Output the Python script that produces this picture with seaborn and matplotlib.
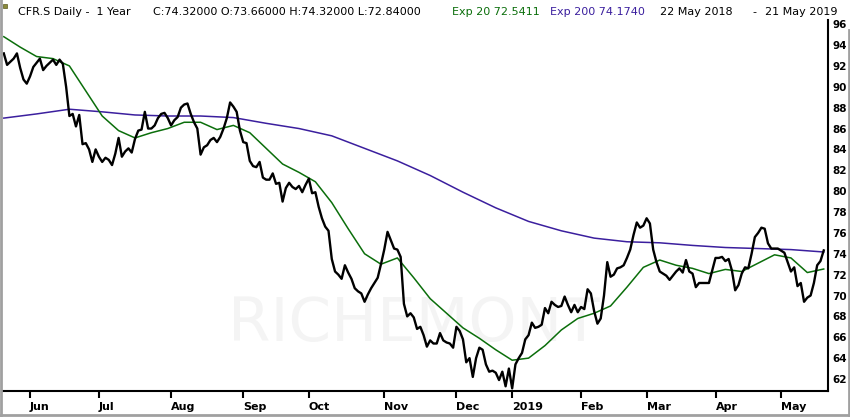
import numpy as np
import pandas as pd
import seaborn as sns
import matplotlib.pyplot as plt
from matplotlib.patches import Rectangle
from matplotlib.lines import Line2D

# Daily close, one value per trading day (22 May 2018 - 21 May 2019)
close = [
    93.2, 92.1, 92.4, 92.7, 93.2, 91.8, 90.7, 90.3, 91.0, 91.9,
    92.3, 92.7, 91.6, 92.0, 92.3, 92.6, 92.1, 92.6, 92.2, 90.0,
    87.2, 87.4, 86.2, 87.3, 84.5, 84.6, 84.0, 82.8, 84.0, 83.3,
    82.8, 83.2, 83.0, 82.5, 83.6, 85.1, 83.3, 83.8, 84.1, 83.7,
    85.0, 85.8, 85.9, 87.6, 86.0, 86.0, 86.3, 87.0, 87.4, 87.5,
    87.0, 86.3, 86.8, 87.1, 88.0, 88.3, 88.4, 87.4, 86.6, 86.0,
    83.5, 84.2, 84.4, 84.9, 85.1, 84.7, 85.2, 86.0, 87.0, 88.5,
    88.1, 87.6, 85.8, 84.7, 84.6, 82.9, 82.4, 82.3, 82.8, 81.3,
    81.1, 81.1, 81.7, 80.7, 80.8, 79.0, 80.3, 80.8, 80.4, 80.2,
    80.5, 79.9, 80.6, 81.2, 79.8, 79.9, 78.5, 77.4, 76.6, 76.2,
    73.5, 72.3, 72.0, 71.6, 72.9, 72.2, 71.6, 70.7, 70.4, 70.2,
    69.4, 70.1, 70.7, 71.2, 71.7, 73.0, 74.4, 76.1, 75.3, 74.5,
    74.4, 73.7, 69.2, 68.0, 68.3, 67.9, 66.8, 67.0, 66.2, 65.1,
    65.7, 65.4, 65.4, 66.4, 65.7, 65.5, 65.4, 65.0, 67.0, 66.6,
    65.8, 63.6, 64.0, 62.2, 64.0, 65.0, 64.8, 63.4, 62.7, 62.8,
    62.6, 61.9, 62.7, 61.3, 63.0, 61.1, 63.4, 64.0, 64.5, 65.8,
    66.2, 67.4, 66.9, 67.0, 67.2, 68.8, 68.3, 69.4, 69.1, 68.9,
    69.0, 69.9, 69.1, 68.4, 69.1, 68.4, 68.9, 68.7, 70.6, 70.2,
    68.5, 67.3, 67.8, 70.0, 73.2, 71.8, 72.0, 72.6, 72.7, 72.9,
    73.6, 74.4, 75.8, 77.0, 76.5, 76.7, 77.4, 76.9, 74.4, 73.2,
    72.3, 72.1, 71.9, 71.5, 71.9, 72.3, 72.6, 72.2, 73.4, 72.3,
    72.1, 70.8, 71.2, 71.2, 71.2, 71.2, 72.4, 73.6, 73.6, 73.7,
    73.3, 73.5, 72.4, 70.5, 71.0, 72.1, 72.7, 72.6, 74.0, 75.6,
    76.0, 76.5, 76.4, 75.0, 74.5, 74.5, 74.5, 74.3, 74.1, 73.2,
    72.3, 72.7, 70.9, 71.2, 69.4, 69.8, 70.0, 71.2, 72.9, 73.3,
    74.32,
]

# Exp 20, read every 5th trading day
exp20 = [
    94.8, 93.8, 92.9, 92.7, 92.0, 89.6, 87.2, 85.8, 85.1, 85.6,
    86.0, 86.6, 86.6, 85.9, 86.3, 85.6, 84.1, 82.6, 81.8, 80.9,
    78.9, 76.4, 74.0, 73.0, 73.6, 71.7, 69.7, 68.3, 66.9, 65.9,
    64.8, 63.8, 64.0, 65.2, 66.7, 67.8, 68.3, 69.0, 70.8, 72.7,
    73.4, 72.9, 72.6, 72.1, 72.5, 72.3, 73.1, 73.9, 73.6, 72.2,
    72.54,
]

# Exp 200, read every 10th trading day
exp200 = [
    87.0, 87.4, 87.85, 87.6, 87.3, 87.2, 87.2, 87.05, 86.5, 86.0,
    85.3, 84.1, 82.9, 81.5, 79.9, 78.4, 77.1, 76.2, 75.5, 75.15,
    75.05, 74.8, 74.6, 74.5, 74.4, 74.17,
]

month_labels = ["Jun", "Jul", "Aug", "Sep", "Oct", "Nov",
                "Dec", "2019", "Feb", "Mar", "Apr", "May"]
price_ticks = list(range(62, 97, 2))

# SIX exchange closed on these days
holidays = ["2018-08-01", "2018-12-24", "2018-12-25", "2018-12-26",
            "2018-12-31", "2019-01-01", "2019-01-02", "2019-04-19",
            "2019-04-22", "2019-05-01"]

days = pd.bdate_range("2018-05-22", "2019-05-21")
days = days[~days.isin(pd.to_datetime(holidays))]
n = len(close)
days = days[:n]

df = pd.DataFrame({"day": np.arange(n), "close": close})
df20 = pd.DataFrame({"day": np.arange(0, n, 5), "exp": exp20})
df200 = pd.DataFrame({"day": np.arange(0, n, 10), "exp": exp200})

# first trading day of every month (skip the partial May 2018)
months = pd.Series(days).dt.to_period("M")
month_starts = np.flatnonzero(months.ne(months.shift()).to_numpy())[1:]

fig = plt.figure(figsize=(8.5, 4.17), dpi=100)
ax = fig.add_axes([2 / 850, 26 / 417, 826 / 850, 371 / 417])

sns.lineplot(data=df200, x="day", y="exp", color="#3b1f9e", linewidth=1.1, ax=ax)
sns.lineplot(data=df20, x="day", y="exp", color="#0b6e0b", linewidth=1.1, ax=ax)
sns.lineplot(data=df, x="day", y="close", color="black", linewidth=1.7, ax=ax)

# faint watermark
ax.text(125, 67.2, "RICHEMONT", fontsize=44, color="#f4f4f4",
        ha="center", va="center", zorder=0)

ax.set_xlim(-0.55, 251.3)
ax.set_ylim(60.85, 96.4)
ax.set_xlabel("")
ax.set_ylabel("")

ax.yaxis.tick_right()
ax.set_yticks(price_ticks)
ax.set_yticklabels([str(t) for t in price_ticks], fontweight="bold")
ax.tick_params(axis="y", length=0, pad=3, labelsize=7.5)

ax.set_xticks(month_starts)
ax.set_xticklabels(month_labels, ha="left", fontweight="bold")
ax.tick_params(axis="x", length=5, width=1.5, direction="out", pad=3, labelsize=8)

for side in ["top", "left"]:
    ax.spines[side].set_visible(False)
for side in ["right", "bottom"]:
    ax.spines[side].set_linewidth(1.5)
    ax.spines[side].set_color("black")

# header line
ty = 1 - 12 / 417
fs = 8
fig.text(18 / 850, ty, "CFR.S Daily -  1 Year", fontsize=fs, va="center", color="black")
fig.text(153 / 850, ty, "C:74.32000 O:73.66000 H:74.32000 L:72.84000",
         fontsize=fs, va="center", color="black")
fig.text(452 / 850, ty, "Exp 20 72.5411", fontsize=fs, va="center", color="#0b6e0b")
fig.text(550 / 850, ty, "Exp 200 74.1740", fontsize=fs, va="center", color="#3b1f9e")
fig.text(660 / 850, ty, "22 May 2018", fontsize=fs, va="center", color="black")
fig.text(752 / 850, ty, "-", fontsize=fs, va="center", color="black")
fig.text(765 / 850, ty, "21 May 2019", fontsize=fs, va="center", color="black")
fig.patches.append(Rectangle((3 / 850, 1 - 8 / 417), 4 / 850, 4 / 417,
                             transform=fig.transFigure, facecolor="#8a8a3a",
                             edgecolor="#5a5a20", linewidth=0.5))

# window frame on the left, right and bottom
frame = dict(transform=fig.transFigure, color="#a0a0a0", linewidth=2)
fig.lines.append(Line2D([1 / 850, 1 / 850], [0, 1], **frame))
fig.lines.append(Line2D([849 / 850, 849 / 850], [0, 1 - 30 / 417], **frame))
fig.lines.append(Line2D([0, 1], [2 / 417, 2 / 417], **frame))

fig.savefig("out.png", dpi=100)
